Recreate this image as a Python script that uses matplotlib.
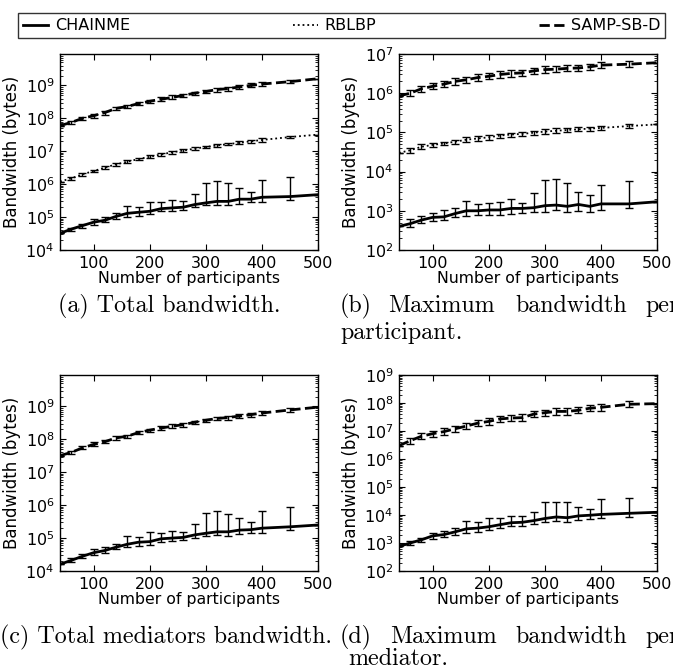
import numpy as np
import matplotlib
matplotlib.use("Agg")
import matplotlib.pyplot as plt
from matplotlib.lines import Line2D
from matplotlib.ticker import LogLocator, NullFormatter


# -------------------------
# DATA
# -------------------------
x = [40, 60, 80, 100, 120, 140, 160, 180, 200, 220, 240, 260, 280,
     300, 320, 340, 360, 380, 400, 450, 500]

# (a) total bandwidth
a_chain = [3.2e4, 4.3e4, 5.5e4, 7e4, 8e4, 1.05e5, 1.3e5, 1.4e5, 1.5e5, 1.8e5, 1.9e5,
           2e5, 2.4e5, 2.7e5, 3e5, 3e5, 3.5e5, 3.5e5, 4e5, 4.2e5, 4.8e5]
a_chain_lo = [3.2e4, 3.8e4, 4.8e4, 5.8e4, 7.2e4, 9e4, 1e5, 1.1e5, 1.2e5, 1.5e5, 1.5e5,
              1.6e5, 2e5, 2.3e5, 2.4e5, 2.3e5, 2.5e5, 2.8e5, 2.8e5, 3.3e5, 4.8e5]
a_chain_hi = [3.2e4, 4.8e4, 6.3e4, 9e4, 1e5, 1.3e5, 2.2e5, 2e5, 2.9e5, 2.8e5, 3.2e5,
              3e5, 5e5, 1.1e6, 1.25e6, 1.05e6, 7.8e5, 5.8e5, 1.3e6, 1.7e6, 4.8e5]
a_rblbp = [1.2e6, 1.5e6, 2e6, 2.5e6, 3.2e6, 4e6, 4.8e6, 5.8e6, 6.8e6, 8e6, 9.3e6,
           1.05e7, 1.2e7, 1.35e7, 1.5e7, 1.65e7, 1.8e7, 2e7, 2.2e7, 2.7e7, 3.2e7]
a_rblbp_err = [0, 0.1, 0.1, 0.1, 0.1, 0.12, 0.1, 0.1, 0.1, 0.1, 0.12,
               0.1, 0.12, 0.1, 0.12, 0.1, 0.12, 0.1, 0.12, 0.1, 0]
a_samp = [6e7, 7.5e7, 1e8, 1.2e8, 1.5e8, 2e8, 2.3e8, 2.8e8, 3.3e8, 3.8e8, 4.3e8,
          5e8, 5.8e8, 6.5e8, 7.5e8, 8e8, 9e8, 1e9, 1.1e9, 1.3e9, 1.6e9]
a_samp_err = [0, 0.12, 0.12, 0.15, 0.15, 0.12, 0.12, 0.12, 0.12, 0.15, 0.15,
              0.12, 0.12, 0.12, 0.15, 0.15, 0.15, 0.15, 0.12, 0.12, 0]

# (b) maximum bandwidth per participant
b_chain = [4e2, 4.7e2, 5.8e2, 6.8e2, 7e2, 8.5e2, 1e3, 1e3, 1.05e3, 1.05e3, 1.15e3,
           1.15e3, 1.2e3, 1.35e3, 1.4e3, 1.3e3, 1.45e3, 1.3e3, 1.5e3, 1.5e3, 1.7e3]
b_chain_lo = [4e2, 3.8e2, 4.8e2, 5.5e2, 5.8e2, 7e2, 7.5e2, 7.8e2, 8e2, 8e2, 8.5e2,
              9e2, 9.3e2, 9.5e2, 1.05e3, 9.5e2, 1e3, 9.5e2, 1.05e3, 1.15e3, 1.7e3]
b_chain_hi = [4e2, 6e2, 7.5e2, 9e2, 1.05e3, 1.15e3, 1.75e3, 1.5e3, 1.6e3, 1.65e3, 2e3,
              1.6e3, 2.8e3, 6e3, 6.5e3, 5.2e3, 3.1e3, 2.5e3, 4.5e3, 5.7e3, 1.7e3]
b_rblbp = [3e4, 3.5e4, 4.3e4, 4.8e4, 5.2e4, 5.8e4, 6.5e4, 7e4, 7.5e4, 8.3e4, 8.8e4,
           9.2e4, 9.8e4, 1.05e5, 1.1e5, 1.15e5, 1.2e5, 1.25e5, 1.3e5, 1.45e5, 1.6e5]
b_rblbp_err = [0, 0.15, 0.15, 0.15, 0.12, 0.12, 0.15, 0.15, 0.15, 0.12, 0.12,
               0.12, 0.12, 0.15, 0.15, 0.12, 0.12, 0.12, 0.12, 0.12, 0]
b_samp = [8.5e5, 1e6, 1.3e6, 1.5e6, 1.7e6, 2e6, 2.2e6, 2.5e6, 2.7e6, 3e6, 3.2e6,
          3.3e6, 3.7e6, 4e6, 4.1e6, 4.3e6, 4.4e6, 4.7e6, 5.2e6, 5.5e6, 6e6]
b_samp_err = [0, 0.2, 0.2, 0.2, 0.2, 0.2, 0.2, 0.2, 0.2, 0.2, 0.2,
              0.2, 0.2, 0.2, 0.2, 0.2, 0.2, 0.2, 0.2, 0.2, 0]

# (c) total mediators bandwidth
c_chain = [1.6e4, 2.1e4, 2.8e4, 3.6e4, 4.2e4, 5.3e4, 6.5e4, 7.5e4, 7.8e4, 9.5e4, 1e5,
           1.05e5, 1.25e5, 1.4e5, 1.55e5, 1.55e5, 1.75e5, 1.8e5, 2e5, 2.2e5, 2.5e5]
c_chain_lo = [1.6e4, 1.9e4, 2.5e4, 3e4, 3.6e4, 4.6e4, 5.2e4, 5.8e4, 6.2e4, 7.5e4, 8e4,
              8.5e4, 1e5, 1.15e5, 1.2e5, 1.15e5, 1.3e5, 1.45e5, 1.45e5, 1.8e5, 2.5e5]
c_chain_hi = [1.6e4, 2.5e4, 3.4e4, 4.5e4, 5.2e4, 6.8e4, 1.15e5, 1.05e5, 1.5e5, 1.4e5, 1.65e5,
              1.55e5, 2.7e5, 5.8e5, 6.5e5, 5.5e5, 4e5, 3e5, 6.5e5, 8.5e5, 2.5e5]
c_samp = [3.2e7, 4e7, 5.5e7, 7e7, 8.5e7, 1.1e8, 1.25e8, 1.6e8, 1.9e8, 2.2e8, 2.5e8,
          2.8e8, 3.3e8, 3.8e8, 4.3e8, 4.6e8, 5.1e8, 5.6e8, 6.3e8, 7.8e8, 9.5e8]
c_samp_err = [0, 0.12, 0.12, 0.15, 0.12, 0.12, 0.12, 0.12, 0.12, 0.15, 0.15,
              0.15, 0.12, 0.12, 0.12, 0.15, 0.15, 0.15, 0.12, 0.12, 0]

# (d) maximum bandwidth per mediator
d_chain = [7.5e2, 1e3, 1.3e3, 1.8e3, 2e3, 2.5e3, 3.2e3, 3.4e3, 3.8e3, 4.5e3, 5.3e3,
           5.5e3, 6.3e3, 7.5e3, 8.5e3, 8e3, 9.3e3, 9.8e3, 1.05e4, 1.15e4, 1.25e4]
d_chain_lo = [7.5e2, 8.5e2, 1.1e3, 1.4e3, 1.6e3, 2e3, 2.3e3, 2.5e3, 2.8e3, 3.5e3, 4e3,
              4.2e3, 4.8e3, 5.5e3, 6e3, 5.8e3, 6.5e3, 7e3, 7.5e3, 8.5e3, 1.25e4]
d_chain_hi = [7.5e2, 1.15e3, 1.5e3, 2.3e3, 2.6e3, 3.5e3, 6e3, 5.5e3, 8e3, 7.8e3, 9e3,
              9e3, 1.3e4, 2.8e4, 3e4, 2.8e4, 2e4, 1.6e4, 3.7e4, 4e4, 1.25e4]
d_samp = [3e6, 4.5e6, 6.5e6, 8e6, 9.5e6, 1.2e7, 1.5e7, 1.9e7, 2.2e7, 2.7e7, 2.9e7,
          3e7, 4e7, 4.5e7, 5e7, 5e7, 5.5e7, 6.5e7, 7e7, 9e7, 9.5e7]
d_samp_err = [0, 0.3, 0.3, 0.3, 0.3, 0.3, 0.3, 0.3, 0.3, 0.3, 0.3,
              0.3, 0.3, 0.3, 0.3, 0.3, 0.3, 0.3, 0.3, 0.3, 0]

labels = ["CHAINME", "RBLBP", "SAMP-SB-D"]
captions = [
    ["(a) Total bandwidth."],
    ["(b)", "Maximum", "bandwidth", "per", "participant."],
    ["(c) Total mediators bandwidth."],
    ["(d)", "Maximum", "bandwidth", "per", "mediator."],
]


# -------------------------
# STYLE
# -------------------------
plt.rcParams.update({
    "font.family": "DejaVu Sans",
    "font.size": 12,
    "xtick.direction": "in",
    "ytick.direction": "in",
    "xtick.top": True,
    "ytick.right": True,
    "xtick.major.size": 4,
    "ytick.major.size": 4,
    "xtick.minor.size": 2,
    "ytick.minor.size": 2,
    "xtick.major.pad": 4,
    "ytick.major.pad": 4,
    "axes.linewidth": 1.0,
})

W, H = 673, 669
fig = plt.figure(figsize=(W / 100, H / 100), dpi=100)


def px_axes(l, t, r, b):
    return fig.add_axes([l / W, 1 - b / H, (r - l) / W, (b - t) / H])


def rel_err(vals, frac):
    v = np.array(vals)
    f = np.array(frac)
    return [v - v / (1 + f), v * f]


def abs_err(vals, lo, hi):
    v = np.array(vals)
    return [v - np.array(lo), np.array(hi) - v]


def draw(ax, series, ylim):
    for y, err, ls, lw in series:
        ax.errorbar(x, y, yerr=err, color="k", ls=ls, lw=lw,
                    elinewidth=1, capsize=3, capthick=1)
    ax.set_yscale("log")
    ax.set_xlim(40, 500)
    ax.set_ylim(*ylim)
    ax.yaxis.set_major_locator(LogLocator(base=10, numticks=20))
    ax.yaxis.set_minor_locator(LogLocator(base=10, subs=np.arange(2, 10), numticks=20))
    ax.yaxis.set_minor_formatter(NullFormatter())
    ax.set_xticks([100, 200, 300, 400, 500])
    ax.set_xlabel("Number of participants", fontsize=11.3, labelpad=0)
    ax.set_ylabel("Bandwidth (bytes)", fontsize=12, labelpad=3)
    ax.tick_params(axis="x", labelsize=11.5)
    ax.tick_params(axis="y", labelsize=11.5)


ax_a = px_axes(60, 54, 318, 250)
draw(ax_a, [
    (a_chain, abs_err(a_chain, a_chain_lo, a_chain_hi), "-", 2),
    (a_rblbp, rel_err(a_rblbp, a_rblbp_err), ":", 1.3),
    (a_samp, rel_err(a_samp, a_samp_err), "--", 2),
], (1e4, 9e9))

ax_b = px_axes(399, 54, 657, 250)
draw(ax_b, [
    (b_chain, abs_err(b_chain, b_chain_lo, b_chain_hi), "-", 2),
    (b_rblbp, rel_err(b_rblbp, b_rblbp_err), ":", 1.3),
    (b_samp, rel_err(b_samp, b_samp_err), "--", 2),
], (1e2, 1e7))

ax_c = px_axes(60, 375, 318, 571)
draw(ax_c, [
    (c_chain, abs_err(c_chain, c_chain_lo, c_chain_hi), "-", 2),
    (c_samp, rel_err(c_samp, c_samp_err), "--", 2),
], (1e4, 9e9))

ax_d = px_axes(399, 375, 657, 571)
draw(ax_d, [
    (d_chain, abs_err(d_chain, d_chain_lo, d_chain_hi), "-", 2),
    (d_samp, rel_err(d_samp, d_samp_err), "--", 2),
], (1e2, 1e9))


# -------------------------
# LEGEND
# -------------------------
handles = [Line2D([], [], color="k", ls="-", lw=2),
           Line2D([], [], color="k", ls=":", lw=1.3),
           Line2D([], [], color="k", ls="--", lw=2)]
fig.legend(handles, labels, ncol=3, mode="expand",
           bbox_to_anchor=(18 / W, 1 - 38 / H, (665 - 18) / W, 30 / H),
           loc="lower left", fontsize=11.5, frameon=True, fancybox=False,
           edgecolor="k", handlelength=1.6, handletextpad=0.4,
           borderaxespad=0, borderpad=0.3)


# -------------------------
# CAPTIONS
# -------------------------
cap_font = dict(family="cmr10", fontsize=17.3, va="center", ha="left")


def cap(px, py, s):
    fig.text(px / W, 1 - py / H, s, **cap_font)


cap(58, 306, captions[0][0])
for word, px in zip(captions[1][:4], [340, 388, 515, 645]):
    cap(px, 306, word)
cap(340, 333, captions[1][4])

cap(0, 637, captions[2][0])
for word, px in zip(captions[3][:4], [340, 390, 515, 645]):
    cap(px, 637, word)
cap(348, 659, captions[3][4])

fig.savefig("out.png", dpi=100)
